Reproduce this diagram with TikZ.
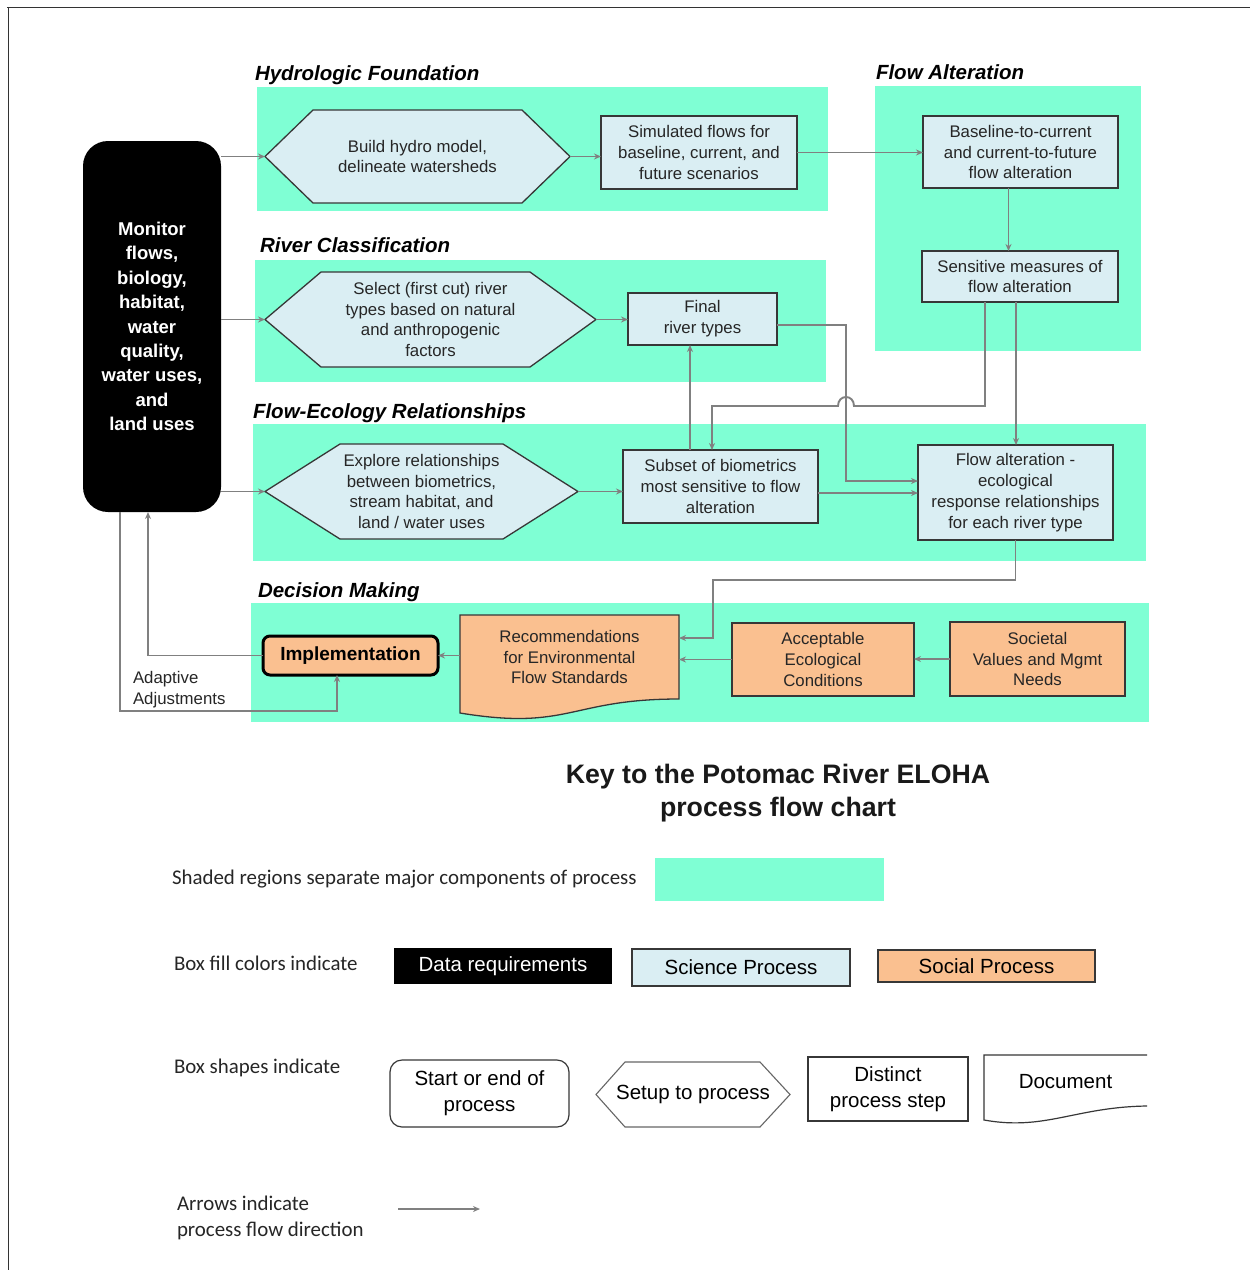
\documentclass[tikz,border=0pt]{standalone}
\usepackage{fontspec}
\setmainfont{Liberation Sans}
\newfontfamily\calfont{Carlito}
\usetikzlibrary{arrows.meta,calc}
\pgfdeclarelayer{bg}\pgfdeclarelayer{mid}
\pgfsetlayers{bg,mid,main}
\definecolor{regionc}{RGB}{127,255,212}
\definecolor{scic}{RGB}{218,238,243}
\definecolor{socc}{RGB}{250,192,144}
\definecolor{connc}{RGB}{128,128,128}
\definecolor{edgec}{RGB}{55,55,55}
\tikzset{
 every node/.style={inner sep=0pt, outer sep=0pt},
 ttl/.style={font=\fontsize{20.5}{24}\selectfont\bfseries\itshape, anchor=base west, text=black},
 txt/.style={font=\fontsize{16.8}{20.8}\selectfont, align=center, text=black!85},
 scibox/.style={txt, draw=edgec, line width=1.3pt, fill=scic},
 socbox/.style={txt, draw=edgec, line width=1.3pt, fill=socc},
 hexpath/.style={draw=edgec, line width=1.3pt, fill=scic},
 docpath/.style={draw=edgec, line width=1.3pt, fill=socc},
 arr/.style={draw=connc, line width=1.9pt, -{Stealth[length=7pt,width=6pt]}},
 keylbl/.style={font=\calfont\fontsize{20.9}{26}\selectfont, anchor=base west, align=left, text=black!85},
 keybox/.style={font=\fontsize{20.5}{26}\selectfont, align=center, text=black},
}
\newcommand{\myhex}[4][hexpath]{%
 \begin{pgfonlayer}{mid}
 \draw[#1] (#2.west) -- ([xshift=#3]#2.north west) -- ([xshift=-#4]#2.north east) -- (#2.east) -- ([xshift=-#4]#2.south east) -- ([xshift=#3]#2.south west) -- cycle;
 \end{pgfonlayer}}
\begin{document}
\begin{tikzpicture}[x=1pt,y=-1pt]
\useasboundingbox (0,0) rectangle (1250,1270);
\begin{pgfonlayer}{bg}
\fill[white] (0,0) rectangle (1250,1270);
\fill[regionc] (257,87) rectangle (828,211);
\fill[regionc] (875,86) rectangle (1141,351);
\fill[regionc] (255,260) rectangle (826,382);
\fill[regionc] (253,424) rectangle (1146,561);
\fill[regionc] (251,603) rectangle (1149,722);
\end{pgfonlayer}
\draw[black!80, line width=1pt] (7,7) -- (1250,7);
\draw[black!80, line width=1pt] (8,7) -- (8,1270);

% titles
\node[ttl] (t1) at (255,80) {Hydrologic Foundation};
\node[ttl] (t2) at (876,79) {Flow Alteration};
\node[ttl] (t3) at (260,252) {River Classification};
\node[ttl] (t4) at (253,418) {Flow-Ecology Relationships};
\node[ttl] (t5) at (258,597) {Decision Making};

% data box
\node[fill=black, rounded corners=25pt, minimum width=138pt, minimum height=371pt, text=white,
 font=\fontsize{18.5}{24.4}\selectfont\bfseries, align=center] (mon) at (152,326.5)
 {Monitor\\flows,\\biology,\\habitat,\\water\\quality,\\water uses,\\and\\land uses};

% hydrologic foundation
\node[txt, minimum width=305pt, minimum height=93pt] (h1) at (417.5,156.5) {Build hydro model,\\delineate watersheds};
\myhex{h1}{48pt}{48pt}
\node[scibox, minimum width=196pt, minimum height=73pt] (sim) at (699,152.5) {Simulated flows for\\baseline, current, and\\future scenarios};

% flow alteration
\node[scibox, minimum width=195pt, minimum height=72pt] (base) at (1020.5,152) {Baseline-to-current\\and current-to-future\\flow alteration};
\node[scibox, minimum width=196pt, minimum height=51pt] (sens) at (1020,276.5) {Sensitive measures of\\flow alteration};

% river classification
\node[txt, minimum width=331pt, minimum height=95pt] (h2) at (430.5,319.5) {Select (first cut) river\\types based on natural\\and anthropogenic\\factors};
\myhex{h2}{56pt}{66pt}
\node[scibox, minimum width=149pt, minimum height=52pt] (fin) at (702.5,319) {Final\\river types};

% flow-ecology
\node[txt, minimum width=313pt, minimum height=95pt] (h3) at (421.5,491.5) {Explore relationships\\between biometrics,\\stream habitat, and\\land / water uses};
\myhex{h3}{75pt}{75pt}
\node[scibox, minimum width=195pt, minimum height=73pt] (sub) at (720.5,486.5) {Subset of biometrics\\most sensitive to flow\\alteration};
\node[scibox, minimum width=195pt, minimum height=95pt] (fae) at (1015.5,492.5) {Flow alteration -\\ecological\\response relationships\\for each river type};

% decision making
\node[txt, minimum width=219pt, minimum height=84pt] (rec) at (569.5,657) {Recommendations\\for Environmental\\Flow Standards};
\begin{pgfonlayer}{mid}
\draw[docpath] (rec.south west) ++(0,-16) -- (rec.north west) -- (rec.north east) -- (rec.south east)
 .. controls (569.5,699) and (569.5,731) .. (460,713) -- cycle;
\end{pgfonlayer}
\node[socbox, minimum width=182pt, minimum height=73pt] (acc) at (823,659.5) {Acceptable\\Ecological\\Conditions};
\node[socbox, minimum width=175pt, minimum height=74pt] (soc) at (1037.5,659) {Societal\\Values and Mgmt\\Needs};
\node[fill=socc, draw=black, line width=3pt, rounded corners=7pt, minimum width=175pt, minimum height=39pt,
 font=\fontsize{19}{22}\selectfont\bfseries] (imp) at (350.5,655.5) {Implementation};
\node[txt, align=left, anchor=west] (adapt) at (133,689.5) {Adaptive\\Adjustments};

% connectors
\draw[arr] (mon.east |- h1.west) -- (h1.west);
\draw[arr] (mon.east |- h2.west) -- (h2.west);
\draw[arr] (mon.east |- h3.west) -- (h3.west);
\draw[arr] (h1.east) -- (sim.west |- h1.east);
\draw[arr] (sim.east) -- (base.west |- sim.east);
\coordinate (b1) at ([xshift=-12pt]base.south);
\draw[arr] (b1) -- (b1 |- sens.north);
\draw[arr] (h2.east) -- (fin.west |- h2.east);
\coordinate (u1) at ([xshift=-30.5pt]sub.north);
\draw[arr] (u1) -- (u1 |- fin.south);
\coordinate (s1) at ([xshift=-35pt]sens.south);
\coordinate (s2) at ([xshift=-8.5pt]sub.north);
\coordinate (hopR) at (854,406);
\coordinate (hopL) at (838,406);
\draw[arr] (s1) -- (s1 |- hopR) -- (hopR) .. controls (854,394) and (838,394) .. (hopL) -- (s2 |- hopL) -- (s2);
\coordinate (f1) at ([yshift=-6pt]fin.east);
\coordinate (f2) at (846,481);
\draw[arr] (f1) -- (f1 -| f2) -- (f2) -- (f2 -| fae.west);
\draw[arr] (h3.east) -- (sub.west |- h3.east);
\coordinate (c11) at ([yshift=-6.5pt]sub.east);
\draw[arr] (c11) -- (c11 -| fae.west);
\coordinate (s3) at ([xshift=-4pt]sens.south);
\draw[arr] (s3) -- (s3 |- fae.north);
\coordinate (r1) at (713,580);
\coordinate (r2) at (713,638);
\draw[arr] (fae.south) -- (fae.south |- r1) -- (r1) -- (r2) -- (r2 -| rec.east);
\draw[arr] (acc.west) -- (acc.west -| rec.east);
\draw[arr] (soc.west) -- (soc.west -| acc.east);
\draw[arr] (imp.east -| rec.west) -- (imp.east);
\coordinate (m2) at ([xshift=-4pt]mon.south);
\draw[arr] (imp.west) -- (imp.west -| m2) -- (m2);
\coordinate (a1) at ([xshift=-32pt]mon.south);
\coordinate (a2) at ([xshift=-13.5pt]imp.south);
\coordinate (abot) at (0,711);
\draw[arr] (a1) -- (a1 |- abot) -- (a2 |- abot) -- (a2);

% key
\node[font=\fontsize{26.7}{33}\selectfont\bfseries, align=center, text=black!90] (ktitle) at (778,793)
 {Key to the Potomac River ELOHA\\process flow chart};
\node[keylbl] (k1) at (172,884) {Shaded regions separate major components of process};
\fill[regionc] (655,858) rectangle (884,901);
\node[keylbl] (k2) at (174,970) {Box fill colors indicate};
\node[keybox, fill=black, text=white, minimum width=218pt, minimum height=36pt] (kdata) at (503,966) {Data requirements};
\node[keybox, fill=scic, draw=edgec, line width=1.3pt, minimum width=218pt, minimum height=37pt] (ksci) at (741,967.5) {Science Process};
\node[keybox, fill=socc, draw=edgec, line width=1.3pt, minimum width=217pt, minimum height=32pt] (ksoc) at (986.5,966) {Social Process};
\node[keylbl] (k3) at (174,1073) {Box shapes indicate};
\node[keybox, draw=edgec, line width=1.2pt, rounded corners=12pt, minimum width=179pt, minimum height=67pt] (kstart) at (479.5,1093.5) {Start or end of\\process};
\node[keybox, minimum width=194pt, minimum height=65pt] (ksetup) at (693,1094.5) {Setup to process};
\myhex[draw=black!60, line width=1.1pt, fill=white]{ksetup}{29pt}{30pt}
\node[keybox, draw=edgec, line width=1.2pt, minimum width=160pt, minimum height=64pt] (kstep) at (888,1089) {Distinct\\process step};
\node[keybox] (kdoc) at (1065.5,1082) {Document};
\draw[draw=edgec, line width=1.2pt] (1147,1055) -- (984,1055) -- (984,1120) .. controls (1045,1131) and (1075,1107) .. (1147,1106);
\node[keylbl] (k4) at (177,1236) {Arrows indicate\\process flow direction};
\coordinate (ka) at (398,1209);
\coordinate (kb) at (480,1209);
\draw[arr] (ka) -- (kb);
\end{tikzpicture}
\end{document}
